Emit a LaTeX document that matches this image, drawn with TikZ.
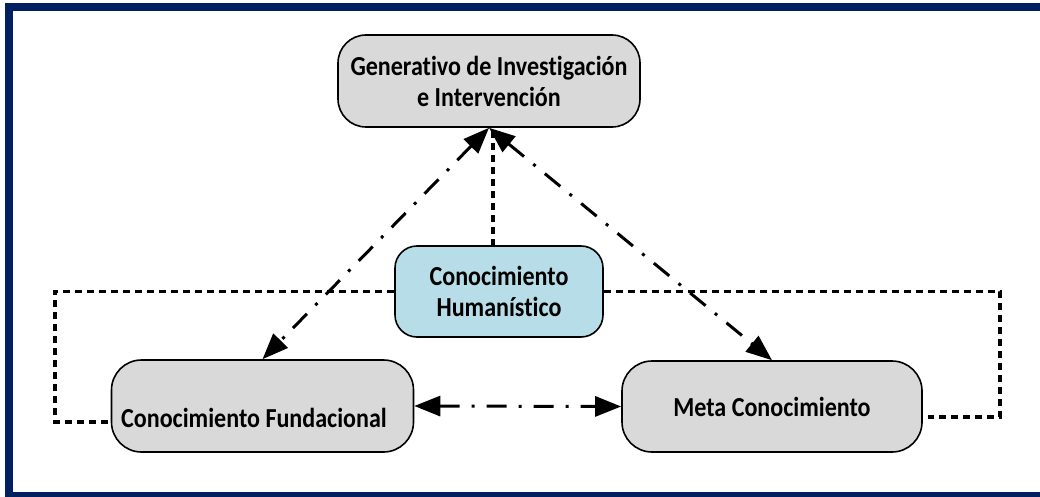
\documentclass[tikz,border=0pt]{standalone}
\usepackage{fontspec}
\setmainfont{Carlito}[FakeStretch=0.875,Ligatures=NoCommon]
\usetikzlibrary{arrows.meta}
\definecolor{framecol}{HTML}{002060}
\definecolor{boxgrey}{HTML}{D9D9D9}
\definecolor{boxblue}{HTML}{B7DEE8}
\tikzset{
  box/.style={draw=black, line width=1.6pt, rounded corners=28pt, fill=boxgrey,
    minimum width=302pt, minimum height=92pt, inner sep=0pt,
    align=center, font=\fontsize{27.5}{31}\selectfont\bfseries},
  lbl/.style={inner sep=0pt, font=\fontsize{27.5}{31}\selectfont\bfseries},
  dashdot/.style={line width=3pt, dash pattern=on 20pt off 12pt on 3pt off 12pt,
    {Triangle[length=26pt,width=20pt]}-{Triangle[length=26pt,width=20pt]}},
  dotline/.style={line width=3.6pt, dash pattern=on 7pt off 5pt}
}
\begin{document}
\begin{tikzpicture}[x=1pt,y=-1pt]
\useasboundingbox (0,0) rectangle (1040,497);
\draw[framecol, line width=8pt] (9,7) rectangle (1048,496);

\node[box] (gen) at (489,81) {Generativo de Investigación\\e Intervención};
\node[box, fill=boxblue, minimum width=208pt, minimum height=91pt, rounded corners=22pt] (hum) at (499,291.5) {Conocimiento\\Humanístico};
\node[box, rounded corners=30pt] (fund) at (262.5,406) {};
\node[lbl, anchor=base west] (fundtxt) at (121,427) {Conocimiento Fundacional};
\node[box, rounded corners=30pt, minimum width=300pt, minimum height=91pt] (meta) at (772,406.5) {Meta Conocimiento};

\coordinate (vtop) at (493,127);
\coordinate (vbot) at (493,246);
\coordinate (lc1) at (55,291.5);
\coordinate (lc2) at (55,422);
\coordinate (rc1) at (1000,291.5);
\coordinate (rc2) at (1000,417);
\coordinate (rc3) at (928,417);

\draw[dotline] (vbot) -- (vtop);
\draw[dotline] (hum.west) -- (lc1) -- (lc2) -- (fund.west |- lc2);
\draw[dotline] (hum.east) -- (rc1) -- (rc2) -- (rc3);

\draw[dashdot] (gen.south) -- (fund.north);
\draw[dashdot] (gen.south) -- (meta.north);
\draw[dashdot] (fund.east) -- (meta.west);
\end{tikzpicture}
\end{document}
